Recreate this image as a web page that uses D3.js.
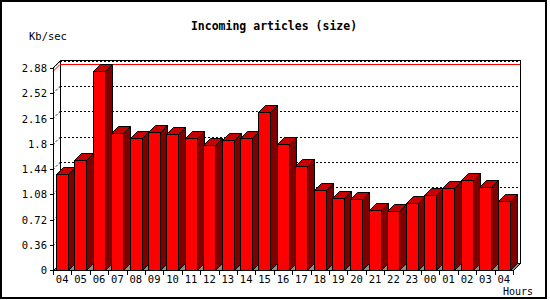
<!DOCTYPE html>
<html>
<head>
<meta charset="utf-8">
<script src="https://cdn.jsdelivr.net/npm/d3@7"></script>
<style>
  body { margin: 0; background: #fff; }
  svg { display: block; }
  text { font-family: "DejaVu Sans Mono", monospace; fill: #000; }
</style>
</head>
<body>
<div id="chart"></div>
<script>

// dati
let ore = ["04","05","06","07","08","09","10","11","12","13","14","15","16",
           "17","18","19","20","21","22","23","00","01","02","03","04"];
let valori = [1.37, 1.57, 2.84, 1.95, 1.88, 1.97, 1.94, 1.88, 1.78, 1.85, 1.88, 2.25, 1.79,
              1.48, 1.14, 1.02, 1.01, 0.85, 0.84, 0.955, 1.065, 1.165, 1.28, 1.19, 0.98];
let yTicks = [0, 0.36, 0.72, 1.08, 1.44, 1.8, 2.16, 2.52, 2.88];
let yLabels = ["0", "0.36", "0.72", "1.08", "1.44", "1.8", "2.16", "2.52", "2.88"];

let W = 550, H = 300;
let depth = 7;          // profondita' 3D
let pLeft = 53, pRight = 513, pBottom = 270, pTop = 67;

let svg = d3.select("#chart").append("svg")
    .attr("width", W)
    .attr("height", H);

// cornice esterna
svg.append("rect")
    .attr("x", 1).attr("y", 1)
    .attr("width", 545).attr("height", 297)
    .style("fill", "none")
    .style("stroke", "#000")
    .style("stroke-width", 2);

// scale
let x = d3.scaleBand().domain(d3.range(ore.length)).range([pLeft, pRight]).padding(0);
let y = d3.scaleLinear().domain([0, 2.88]).range([pBottom, 68]);

// parete di fondo
svg.append("rect")
    .attr("x", pLeft + depth + 0.5).attr("y", pTop - depth + 0.5)
    .attr("width", pRight - pLeft).attr("height", pBottom - pTop)
    .style("fill", "#fff")
    .style("stroke", "#000");

// parete sinistra
svg.append("path")
    .attr("d", `M${pLeft + 0.5},${pTop + 0.5} L${pLeft + depth + 0.5},${pTop - depth + 0.5} L${pLeft + depth + 0.5},${pBottom - depth + 0.5} L${pLeft + 0.5},${pBottom + 0.5} Z`)
    .style("fill", "#fff")
    .style("stroke", "#000");

// griglia tratteggiata
let griglia = yTicks.filter((t) => t > 0);
svg.append("g")
    .selectAll("line")
    .data(griglia)
    .enter().append("line")
    .attr("x1", pLeft + depth).attr("x2", pRight + depth)
    .attr("y1", (d) => Math.round(y(d)) - depth + 0.5)
    .attr("y2", (d) => Math.round(y(d)) - depth + 0.5)
    .style("stroke", "#000")
    .style("stroke-dasharray", "2,2");

svg.append("g")
    .selectAll("line")
    .data(griglia)
    .enter().append("line")
    .attr("x1", pLeft).attr("x2", pLeft + depth)
    .attr("y1", (d) => Math.round(y(d)) + 0.5)
    .attr("y2", (d) => Math.round(y(d)) - depth + 0.5)
    .style("stroke", "#000")
    .style("stroke-dasharray", "2,2");

// linea del massimo (rossa)
let massimo = d3.max(valori);
let yMax = Math.round(y(massimo));
svg.append("path")
    .attr("d", `M${pLeft},${yMax + 0.5} L${pLeft + depth},${yMax - depth + 0.5} L${pRight + depth},${yMax - depth + 0.5}`)
    .style("fill", "none")
    .style("stroke", "#f00");

// pavimento
svg.append("path")
    .attr("d", `M${pLeft + 0.5},${pBottom + 0.5} L${pRight + 0.5},${pBottom + 0.5} L${pRight + depth + 0.5},${pBottom - depth + 0.5} L${pLeft + depth + 0.5},${pBottom - depth + 0.5} Z`)
    .style("fill", "#8c8c8c")
    .style("stroke", "#000");

// barre 3D
let bw = Math.round(x.bandwidth() * 0.63);
let barre = svg.append("g")
    .selectAll("g")
    .data(valori)
    .enter().append("g");

barre.each(function(v, i) {
    let g = d3.select(this);
    let x0 = Math.round(x(i) + 3) + 0.5;
    let x1 = x0 + bw;
    let yt = Math.round(y(v)) + 0.5;
    let yb = pBottom + 0.5;
    // lato
    g.append("path")
        .attr("d", `M${x1},${yt} L${x1 + depth},${yt - depth} L${x1 + depth},${yb - depth} L${x1},${yb} Z`)
        .style("fill", "#800000")
        .style("stroke", "#000");
    // sopra
    g.append("path")
        .attr("d", `M${x0},${yt} L${x0 + depth},${yt - depth} L${x1 + depth},${yt - depth} L${x1},${yt} Z`)
        .style("fill", "#c80000")
        .style("stroke", "#000");
    // fronte
    g.append("rect")
        .attr("x", x0).attr("y", yt)
        .attr("width", bw).attr("height", yb - yt)
        .style("fill", "#ff0000")
        .style("stroke", "#000");
});

// asse x
svg.append("line")
    .attr("x1", pLeft).attr("x2", pRight)
    .attr("y1", pBottom + 0.5).attr("y2", pBottom + 0.5)
    .style("stroke", "#000");

let confini = d3.range(ore.length + 1).map((i) => i < ore.length ? x(i) : pRight);
svg.append("g")
    .selectAll("line")
    .data(confini)
    .enter().append("line")
    .attr("x1", (d) => Math.round(d) + 0.5).attr("x2", (d) => Math.round(d) + 0.5)
    .attr("y1", pBottom).attr("y2", pBottom + 5)
    .style("stroke", "#000");

svg.append("g")
    .selectAll("text")
    .data(ore)
    .enter().append("text")
    .attr("x", (d, i) => x(i) + x.bandwidth() / 2)
    .attr("y", 283)
    .style("text-anchor", "middle")
    .style("font-size", "10.5px")
    .text((d) => d);

// asse y
svg.append("line")
    .attr("x1", pLeft + 0.5).attr("x2", pLeft + 0.5)
    .attr("y1", pTop).attr("y2", pBottom)
    .style("stroke", "#000");

svg.append("g")
    .selectAll("line")
    .data(yTicks)
    .enter().append("line")
    .attr("x1", pLeft - 3).attr("x2", pLeft)
    .attr("y1", (d) => Math.round(y(d)) + 0.5)
    .attr("y2", (d) => Math.round(y(d)) + 0.5)
    .style("stroke", "#000");

svg.append("g")
    .selectAll("text")
    .data(yTicks)
    .enter().append("text")
    .attr("x", 47)
    .attr("y", (d) => y(d) + 4)
    .style("text-anchor", "end")
    .style("font-size", "10.5px")
    .text((d, i) => yLabels[i]);

// titoli
svg.append("text")
    .attr("x", 274).attr("y", 30)
    .style("text-anchor", "middle")
    .style("font-size", "11.5px")
    .style("font-weight", "bold")
    .text("Incoming articles (size)");

svg.append("text")
    .attr("x", 29).attr("y", 40)
    .style("font-size", "10.5px")
    .text("Kb/sec");

svg.append("text")
    .attr("x", 533).attr("y", 295)
    .style("text-anchor", "end")
    .style("font-size", "10px")
    .text("Hours");

</script>
</body>
</html>
